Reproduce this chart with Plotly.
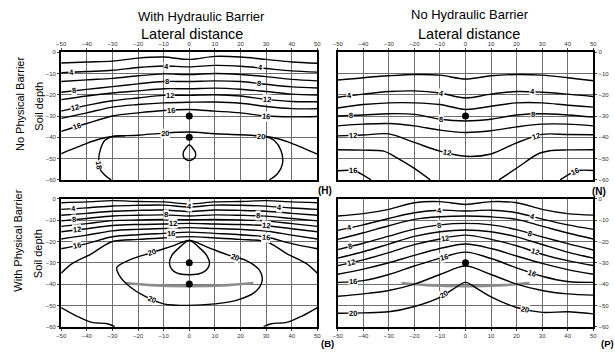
import math
import plotly.graph_objects as go

# ---------------------------------------------------------------------------
# Isoline data: lateral distance (cm) and soil depth (cm) of each isoline.
# Levels are every 2 units; labelled lines are 4, 8, 12, 16, 20.
# ---------------------------------------------------------------------------
X_COLS = [-50, -40, -30, -20, -10, 0, 10, 20, 30, 40, 50]
LATERAL_TICKS = [-50, -40, -30, -20, -10, 0, 10, 20, 30, 40, 50]
DEPTH_TICKS = [0, -10, -20, -30, -40, -50, -60]

# (H) hydraulic barrier, no physical barrier
H_02 = [-5.1, -4.6, -4.2, -2.8, -2.3, -3.4, -2.0, -2.3, -3.4, -4.6, -5.2]
H_04 = [-9.7, -9.1, -8.5, -7.2, -6.5, -6.9, -6.2, -6.6, -7.7, -8.8, -9.4]
H_06 = [-13.8, -13.0, -12.3, -11.1, -10.2, -10.5, -10.0, -10.5, -11.5, -12.8, -13.5]
H_08 = [-18.8, -17.5, -16.2, -14.9, -13.8, -13.8, -13.5, -13.8, -15.1, -16.3, -16.8]
H_10 = [-22.3, -20.6, -19.2, -18.2, -17.2, -17.2, -16.9, -17.4, -18.5, -19.7, -20.1]
H_12 = [-27.7, -25.0, -22.8, -21.5, -20.3, -20.3, -20.0, -20.6, -22.2, -23.2, -23.3]
H_14 = [-31.1, -28.5, -25.8, -24.6, -23.8, -23.5, -23.4, -24.0, -25.5, -26.5, -26.6]
H_16 = [-37.2, -33.5, -30.0, -28.5, -27.4, -26.9, -27.7, -28.5, -30.0, -30.4, -30.2]
H_20_X = [-50, -45, -40, -35, -30, -20, -10, 0, 10, 20, 30, 35, 40, 45, 50]
H_20_D = [-47.7, -45.2, -42.8, -40.8, -39.6, -39.0, -38.0, -37.5, -38.3, -38.8,
          -39.6, -40.8, -42.8, -45.3, -47.9]
H_18L_X = [-30.5, -33.0, -35.0, -35.4, -34.6, -33.0, -30.0, -25.0]
H_18L_D = [-60.0, -57.7, -54.6, -50.8, -45.4, -41.5, -39.6, -39.3]
H_18R_X = [25.0, 30.0, 33.2, 35.8, 36.4, 34.5, 31.3]
H_18R_D = [-39.2, -39.6, -41.5, -46.2, -52.3, -57.0, -60.0]
H_LOOP_X = [0, -1.3, -2.3, -2.2, -1.2, 0, 1.2, 2.3, 2.4, 1.3, 0]
H_LOOP_D = [-43.5, -45.0, -47.0, -49.3, -50.5, -50.9, -50.5, -49.3, -47.0, -45.0, -43.5]
H_LAB_V = [4, 4, 4, 8, 8, 8, 12, 12, 12, 16, 16, 16, 20, 20, 18]
H_LAB_X = [-46, -8.8, 27.6, -44.9, -8.8, 27.3, -44.5, -7.4, 30.5, -44, -7.3, 29.9, -9.5, 27.9, -35.2]
H_LAB_D = [-9.5, -6.6, -7.7, -18.2, -13.6, -14.8, -26.3, -20.3, -22.2, -35, -27.3, -30,
           -38, -39.2, -53]

# (N) no hydraulic barrier, no physical barrier
N_02 = [-13.1, -12.0, -11.1, -10.5, -10.8, -12.6, -11.1, -10.5, -10.8, -12.0, -13.4]
N_04 = [-21.2, -19.7, -18.5, -18.2, -19.2, -21.5, -19.7, -18.5, -18.8, -19.7, -20.8]
N_06 = [-26.2, -24.6, -23.8, -23.8, -24.6, -26.9, -25.4, -23.8, -23.8, -24.9, -25.8]
N_08 = [-30.0, -29.5, -28.9, -29.2, -31.5, -32.3, -31.5, -29.5, -28.9, -29.5, -30.5]
N_10 = [-34.6, -33.8, -33.5, -34.6, -36.6, -37.7, -36.9, -35.1, -33.8, -33.8, -34.6]
N_12 = [-39.3, -38.9, -38.4, -42.4, -46.5, -48.9, -47.8, -42.6, -38.6, -38.7, -38.8]
N_14L_X = [-50, -40, -32, -27, -20, -13.8]
N_14L_D = [-45.8, -46.0, -46.5, -49.5, -54.6, -60.0]
N_14R_X = [13.1, 20.8, 28.5, 33.6, 40, 50]
N_14R_D = [-60.0, -53.8, -47.7, -46.2, -45.9, -45.8]
N_16L_X = [-50, -44, -40, -37]
N_16L_D = [-55.7, -55.6, -57.7, -60.0]
N_16R_X = [37, 40, 44, 50]
N_16R_D = [-60.0, -57.7, -55.6, -55.6]
N_LAB_V = [4, 4, 4, 8, 8, 8, 12, 12, 12, 16, 16]
N_LAB_X = [-45.3, -9.6, 26.3, -45, -9.6, 26.5, -44, -7.4, 27.2, -44, 42.6]
N_LAB_D = [-20.8, -19.7, -18.6, -30, -31.7, -29, -39.1, -47.4, -38.7, -55.6, -55.6]

# (B) hydraulic barrier and physical barrier
B_02 = [-1.8, -1.4, -0.8, -1.2, -1.4, -2.4, -1.4, -1.2, -0.8, -1.4, -1.8]
B_04 = [-4.9, -4.2, -3.3, -3.0, -2.9, -3.8, -2.9, -3.0, -3.4, -4.3, -4.9]
B_06 = [-7.7, -6.8, -5.8, -5.4, -5.2, -5.9, -5.2, -5.4, -5.8, -6.8, -7.7]
B_08 = [-10.3, -9.2, -8.0, -7.7, -7.5, -8.0, -7.5, -7.7, -8.1, -9.2, -10.3]
B_10 = [-12.9, -11.6, -10.2, -9.9, -9.7, -9.8, -9.7, -9.9, -10.3, -11.6, -12.9]
B_12 = [-15.4, -14.0, -12.5, -12.0, -11.8, -11.5, -11.8, -12.0, -12.6, -14.0, -15.4]
B_14 = [-18.8, -17.0, -15.0, -14.3, -13.9, -13.5, -13.9, -14.3, -15.1, -17.0, -18.8]
B_16 = [-23.4, -21.0, -17.8, -16.8, -16.2, -15.6, -16.2, -16.8, -17.9, -21.0, -23.4]
B_18_X = [-50, -45.6, -38, -34, -30, -20, -10, 0, 10, 20, 30, 34, 38, 45.6, 50]
B_18_D = [-34.9, -30.3, -25.7, -22.5, -20.0, -19.0, -18.3, -17.7, -18.3, -19.0,
          -20.0, -22.5, -25.7, -30.3, -34.9]
B_18BL_X = [-50, -44, -38, -32, -29]
B_18BL_D = [-51.0, -55.0, -58.0, -58.6, -60.0]
B_18BR_X = [29, 32, 38, 44, 50]
B_18BR_D = [-60.0, -58.6, -58.0, -55.0, -51.0]
B_20A_X = [0, -7, -15, -22.6, -28.3, -27.0, -23.3, -17.4, -10, 0, 10, 18, 26, 28.5,
           27.4, 22.3, 15, 7, 0]
B_20A_D = [-19.5, -22.3, -25.4, -28.3, -32.2, -36.5, -41.1, -45.7, -49.3, -50.0,
           -49.3, -47.8, -43.4, -38.0, -33.4, -29.0, -26.3, -22.6, -19.5]
B_20B_X = [0, -4.0, -6.8, -7.7, -6.0, 0, 6.0, 7.9, 6.8, 4.0, 0]
B_20B_D = [-19.5, -23.0, -26.5, -30.5, -34.0, -35.6, -34.0, -30.5, -26.5, -23.0, -19.5]
B_LAB_V = [4, 4, 4, 8, 8, 8, 12, 12, 12, 16, 16, 16, 20, 20, 20]
B_LAB_X = [-45, 0, 35, -45, -9, 27, -43.7, -6.5, 30, -43.7, -7, 30, -14.6, 18, -15]
B_LAB_D = [-4.9, -3.8, -4.6, -10, -7.5, -8.5, -15.4, -11.6, -13.1, -22.3, -16, -17.7,
           -25.7, -27.2, -48.5]

# (P) no hydraulic barrier, physical barrier
P_02 = [-8.0, -6.9, -4.9, -1.8, -1.3, -2.6, -1.3, -1.8, -4.9, -6.9, -7.6]
P_04 = [-14.8, -12.2, -9.2, -6.5, -5.3, -5.7, -5.3, -6.5, -9.5, -12.2, -14.3]
P_06 = [-19.0, -15.9, -12.6, -9.6, -8.4, -8.0, -8.4, -9.6, -12.8, -16.0, -18.8]
P_08 = [-23.8, -20.8, -17.5, -14.2, -12.2, -11.5, -12.2, -14.4, -17.8, -21.0, -24.0]
P_10 = [-27.8, -24.8, -21.2, -17.6, -15.4, -14.6, -15.4, -17.8, -21.4, -25.0, -27.8]
P_12 = [-31.3, -28.6, -25.2, -21.5, -18.8, -17.0, -19.0, -22.0, -26.0, -29.0, -31.3]
P_14 = [-35.4, -33.0, -30.0, -26.5, -23.3, -21.2, -23.3, -26.8, -30.3, -33.2, -35.4]
P_16 = [-39.2, -38.4, -35.5, -31.5, -27.8, -25.0, -28.0, -32.4, -36.3, -38.8, -39.2]
P_18 = [-45.7, -44.6, -43.0, -40.0, -35.5, -31.5, -35.5, -40.0, -43.0, -44.6, -45.2]
P_20_X = [-50, -40, -30, -20, -10, -5, 0, 5, 10, 20, 30, 40, 50]
P_20_D = [-53.7, -53.5, -53.0, -50.5, -46.2, -42.5, -39.2, -42.5, -46.0, -51.0,
          -53.3, -53.0, -54.0]
P_LAB_V = [4, 4, 4, 8, 8, 8, 12, 12, 12, 16, 16, 16, 20, 20, 20]
P_LAB_X = [-45.3, -10, 26, -45, -10.3, 25, -44.4, -8, 26.7, -44, -8.5, 26, -44.2, -8.4, 23]
P_LAB_D = [-13.8, -5.4, -8.5, -23.7, -12.2, -16.8, -31.1, -18.3, -26.1, -39.2, -27.2,
           -35.5, -53.7, -45.3, -52.3]

# Point sources and the physical barrier
SRC_TWO_X = [0, 0]
SRC_TWO_D = [-30, -40]
SRC_ONE_X = [0]
SRC_ONE_D = [-30]
BARRIER_X = [-25, -15, 0, 15, 25]
BARRIER_D = [-39.5, -40.5, -41.0, -40.5, -39.5]

# ---------------------------------------------------------------------------
W, H = 615, 352


def px_dom(a, b, size, flip=False):
    if flip:
        return [1 - b / size, 1 - a / size]
    return [a / size, b / size]


panels = [
    dict(key="", curves=[(X_COLS, H_02), (X_COLS, H_04), (X_COLS, H_06), (X_COLS, H_08),
                         (X_COLS, H_10), (X_COLS, H_12), (X_COLS, H_14), (X_COLS, H_16),
                         (H_20_X, H_20_D), (H_18L_X, H_18L_D), (H_18R_X, H_18R_D),
                         (H_LOOP_X, H_LOOP_D)],
         labels=(H_LAB_V, H_LAB_X, H_LAB_D), src=(SRC_TWO_X, SRC_TWO_D), barrier=False,
         dx=px_dom(57, 317, W), dy=px_dom(50, 180, H, True), xside="top", yside="left"),
    dict(key="2", curves=[(X_COLS, N_02), (X_COLS, N_04), (X_COLS, N_06), (X_COLS, N_08),
                          (X_COLS, N_10), (X_COLS, N_12), (N_14L_X, N_14L_D),
                          (N_14R_X, N_14R_D), (N_16L_X, N_16L_D), (N_16R_X, N_16R_D)],
         labels=(N_LAB_V, N_LAB_X, N_LAB_D), src=(SRC_ONE_X, SRC_ONE_D), barrier=False,
         dx=px_dom(337.7, 597, W), dy=px_dom(50, 180, H, True), xside="top", yside="right"),
    dict(key="3", curves=[(X_COLS, B_02), (X_COLS, B_04), (X_COLS, B_06), (X_COLS, B_08),
                          (X_COLS, B_10), (X_COLS, B_12), (X_COLS, B_14), (X_COLS, B_16),
                          (B_18_X, B_18_D), (B_18BL_X, B_18BL_D), (B_18BR_X, B_18BR_D),
                          (B_20A_X, B_20A_D), (B_20B_X, B_20B_D)],
         labels=(B_LAB_V, B_LAB_X, B_LAB_D), src=(SRC_TWO_X, SRC_TWO_D), barrier=True,
         dx=px_dom(57, 317, W), dy=px_dom(199.3, 329.3, H, True), xside="bottom", yside="left"),
    dict(key="4", curves=[(X_COLS, P_02), (X_COLS, P_04), (X_COLS, P_06), (X_COLS, P_08),
                          (X_COLS, P_10), (X_COLS, P_12), (X_COLS, P_14), (X_COLS, P_16),
                          (X_COLS, P_18), (P_20_X, P_20_D)],
         labels=(P_LAB_V, P_LAB_X, P_LAB_D), src=(SRC_ONE_X, SRC_ONE_D), barrier=True,
         dx=px_dom(337.7, 597, W), dy=px_dom(199.3, 329.3, H, True), xside="bottom", yside="right"),
]

# pixels per data unit inside a panel (used for label orientation)
SX = 260.0 / 100.0
SY = 130.0 / 60.0


def place_label(x, d, curves):
    """Snap a label onto the nearest isoline segment and return its angle."""
    best = None
    for xs, ds in curves:
        for i in range(len(xs) - 1):
            ax, ay = xs[i] * SX, ds[i] * SY
            bx, by = xs[i + 1] * SX, ds[i + 1] * SY
            px, py = x * SX, d * SY
            vx, vy = bx - ax, by - ay
            L2 = vx * vx + vy * vy
            t = 0.0 if L2 == 0 else max(0.0, min(1.0, ((px - ax) * vx + (py - ay) * vy) / L2))
            qx, qy = ax + t * vx, ay + t * vy
            dist = math.hypot(qx - px, qy - py)
            if best is None or dist < best[0]:
                best = (dist, vx, vy, qx / SX, qy / SY)
    _, vx, vy, qx, qy = best
    ang = -math.degrees(math.atan2(vy, vx))
    if ang > 90:
        ang -= 180
    if ang < -90:
        ang += 180
    return qx, qy, ang


fig = go.Figure()
annotations = []
FONT = "Arial, Liberation Sans, sans-serif"

for p in panels:
    xa, ya = "x" + p["key"], "y" + p["key"]
    if p["barrier"]:
        fig.add_trace(go.Scatter(x=BARRIER_X, y=BARRIER_D, mode="lines", xaxis=xa, yaxis=ya,
                                 line=dict(color="#8c8c8c", width=2.6, shape="spline"),
                                 hoverinfo="skip", showlegend=False))
    for xs, ds in p["curves"]:
        fig.add_trace(go.Scatter(x=xs, y=ds, mode="lines", xaxis=xa, yaxis=ya,
                                 line=dict(color="black", width=1.4, shape="spline",
                                           smoothing=0.9),
                                 hoverinfo="skip", showlegend=False))
    sx, sd = p["src"]
    fig.add_trace(go.Scatter(x=sx, y=sd, mode="markers", xaxis=xa, yaxis=ya,
                             marker=dict(color="black", size=7), hoverinfo="skip",
                             showlegend=False))
    lv, lx, ld = p["labels"]
    for v, x, d in zip(lv, lx, ld):
        qx, qy, ang = place_label(x, d, p["curves"])
        annotations.append(dict(x=qx, y=qy, xref=xa, yref=ya, text=str(v),
                                showarrow=False, textangle=ang, bgcolor="white",
                                borderpad=0,
                                font=dict(family=FONT, size=7.5, color="#000000",
                                          weight="bold")))

    axis_common = dict(showgrid=True, gridcolor="#6e6e6e", gridwidth=1, zeroline=False,
                       showline=True, linecolor="black", linewidth=2, mirror=True,
                       ticks="outside", ticklen=2, tickcolor="#444",
                       tickfont=dict(family=FONT, size=6, color="#333"))
    fig.update_layout(**{
        "xaxis" + p["key"]: dict(domain=p["dx"], range=[-50, 50], tickvals=LATERAL_TICKS,
                                 side=p["xside"], anchor=ya, **axis_common),
        "yaxis" + p["key"]: dict(domain=p["dy"], range=[-60, 0], tickvals=DEPTH_TICKS,
                                 side=p["yside"], anchor=xa, **axis_common),
    })


def text(x, y, s, size, angle=0, bold=False, xanchor="center"):
    annotations.append(dict(x=x / W, y=1 - y / H, xref="paper", yref="paper",
                            text=("<b>%s</b>" % s) if bold else s, showarrow=False,
                            textangle=angle, xanchor=xanchor, yanchor="middle",
                            font=dict(family=FONT, size=size, color="black")))


text(199, 14, "With Hydraulic Barrier", 13)
text(472, 12, "No Hydraulic Barrier", 13)
text(190, 32, "Lateral distance", 14.5)
text(471, 32, "Lateral distance", 14.5)
text(15, 103, "No Physical Barrier", 11, angle=-90)
text(35, 105, "Soil depth", 11, angle=-90)
text(13, 242, "With Physical Barrier", 11, angle=-90)
text(33, 255, "Soil depth", 11, angle=-90)
text(325, 191, "(H)", 10, bold=True)
text(603, 192, "(N)", 10, bold=True)
text(327, 346.5, "(B)", 9.5, bold=True)
text(603, 346.5, "(P)", 9.5, bold=True, xanchor="left")

fig.update_layout(width=W, height=H, margin=dict(l=0, r=0, t=0, b=0),
                  paper_bgcolor="white", plot_bgcolor="white",
                  annotations=annotations, showlegend=False)

fig.write_html("out.html")
